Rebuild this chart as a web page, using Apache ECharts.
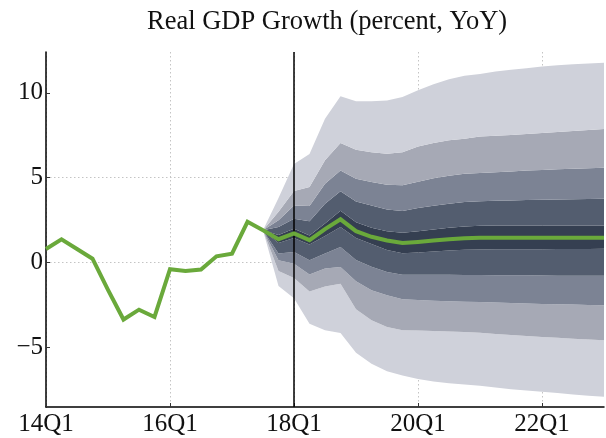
<!DOCTYPE html>
<html><head><meta charset="utf-8">
<script src="https://cdn.jsdelivr.net/npm/echarts@6/dist/echarts.min.js"></script>
<style>html,body{margin:0;padding:0;background:#fff}#c{width:606px;height:438px}</style>
</head><body><div id="c"></div>
<script>
const quarters = ['14Q1','14Q2','14Q3','14Q4','15Q1','15Q2','15Q3','15Q4','16Q1','16Q2','16Q3','16Q4',
  '17Q1','17Q2','17Q3','17Q4','18Q1','18Q2','18Q3','18Q4','19Q1','19Q2','19Q3','19Q4',
  '20Q1','20Q2','20Q3','20Q4','21Q1','21Q2','21Q3','21Q4','22Q1','22Q2','22Q3','22Q4','23Q1'];
const yTicks = [-5, 0, 5, 10];
const history = [0.8, 1.37, 0.8, 0.23, -1.6, -3.35, -2.77, -3.2, -0.39, -0.49, -0.41, 0.37, 0.53, 2.4];
// forecast from 17Q3 (index 14) to 23Q1
const median = [1.9, 1.38, 1.72, 1.32, 1.97, 2.55, 1.85, 1.52, 1.3, 1.15, 1.22, 1.3, 1.38, 1.44, 1.46, 1.47, 1.47, 1.47, 1.47, 1.47, 1.47, 1.47, 1.47];
const upper5 = [1.9, 3.8, 5.8, 6.4, 8.47, 9.8, 9.5, 9.5, 9.55, 9.75, 10.15, 10.5, 10.8, 11.0, 11.1, 11.25, 11.35, 11.45, 11.55, 11.62, 11.68, 11.73, 11.77];
const upper4 = [1.9, 3.0, 4.21, 4.45, 6.02, 7.04, 6.65, 6.5, 6.41, 6.5, 6.84, 7.04, 7.2, 7.3, 7.42, 7.47, 7.52, 7.57, 7.63, 7.69, 7.75, 7.81, 7.86];
const upper3 = [1.9, 2.5, 3.37, 3.33, 4.65, 5.43, 4.94, 4.74, 4.59, 4.55, 4.76, 4.96, 5.12, 5.23, 5.27, 5.32, 5.37, 5.42, 5.46, 5.49, 5.53, 5.56, 5.59];
const upper2 = [1.9, 2.1, 2.59, 2.43, 3.47, 4.2, 3.6, 3.37, 3.13, 3.04, 3.21, 3.35, 3.47, 3.57, 3.62, 3.64, 3.66, 3.68, 3.7, 3.72, 3.73, 3.75, 3.76];
const upper1 = [1.9, 1.62, 2.0, 1.6, 2.3, 3.05, 2.38, 2.05, 1.85, 1.76, 1.85, 1.95, 2.05, 2.13, 2.17, 2.19, 2.19, 2.19, 2.19, 2.19, 2.19, 2.19, 2.19];
const lower1 = [1.9, 1.15, 1.45, 1.06, 1.56, 2.1, 1.45, 1.1, 0.75, 0.55, 0.6, 0.66, 0.72, 0.76, 0.77, 0.78, 0.78, 0.79, 0.79, 0.8, 0.8, 0.8, 0.81];
const lower2 = [1.9, 0.53, 0.62, 0.14, 0.53, 0.92, 0.15, -0.25, -0.55, -0.72, -0.72, -0.72, -0.72, -0.73, -0.73, -0.74, -0.74, -0.75, -0.76, -0.77, -0.77, -0.78, -0.78];
const lower3 = [1.9, 0.14, -0.06, -0.7, -0.35, -0.26, -1.1, -1.63, -1.92, -2.15, -2.2, -2.24, -2.27, -2.3, -2.32, -2.35, -2.38, -2.4, -2.43, -2.45, -2.47, -2.49, -2.51];
const lower4 = [1.9, -0.5, -0.9, -1.7, -1.4, -1.25, -2.75, -3.4, -3.79, -3.98, -4.0, -4.03, -4.06, -4.09, -4.13, -4.2, -4.26, -4.32, -4.38, -4.43, -4.48, -4.53, -4.57];
const lower5 = [1.9, -1.38, -2.1, -3.6, -3.98, -4.14, -5.3, -5.95, -6.4, -6.65, -6.85, -7.0, -7.1, -7.18, -7.25, -7.35, -7.45, -7.53, -7.6, -7.68, -7.76, -7.84, -7.9];

const fanStart = history.length;
const pad = arr => new Array(fanStart).fill('-').concat(arr);
const diff = (a, b) => a.map((v, i) => +(v - b[i]).toFixed(3));
const C = {light:'#cfd1da', ml:'#a6a9b5', mid:'#7c8394', dark:'#535d6f', darkest:'#353f51'};
const bands = [
  [diff(lower4, lower5), C.light],
  [diff(lower3, lower4), C.ml],
  [diff(lower2, lower3), C.mid],
  [diff(lower1, lower2), C.dark],
  [diff(upper1, lower1), C.darkest],
  [diff(upper2, upper1), C.dark],
  [diff(upper3, upper2), C.mid],
  [diff(upper4, upper3), C.ml],
  [diff(upper5, upper4), C.light]
];
const serif = 'Liberation Serif';
const series = [{
  type: 'line', stack: 'fan', stackStrategy: 'all', data: pad(lower5), symbol: 'none',
  lineStyle: {opacity: 0}, z: 2, silent: true
}];
bands.forEach(([d, c]) => series.push({
  type: 'line', stack: 'fan', stackStrategy: 'all', data: pad(d), symbol: 'none',
  lineStyle: {width: 0, opacity: 0}, areaStyle: {color: c, opacity: 1}, z: 2, silent: true
}));
series.push({
  type: 'line', data: history.concat(median), symbol: 'none', z: 5,
  lineStyle: {color: '#6aa93b', width: 4, join: 'miter'},
  markLine: {silent: true, symbol: 'none', label: {show: false},
    lineStyle: {color: '#000', type: 'solid', width: 1.5},
    data: [{xAxis: '18Q1'}]}
});

const chart = echarts.init(document.getElementById('c'), null, {renderer: 'canvas'});
chart.setOption({
  animation: false,
  title: {text: 'Real GDP Growth (percent, YoY)', left: 142, top: 4,
    textStyle: {fontFamily: serif, fontSize: 26.5, fontWeight: 'normal', color: '#111'}},
  grid: {left: 46, right: 2, top: 52, bottom: 31, containLabel: false},
  xAxis: {
    type: 'category', data: quarters, boundaryGap: false,
    axisLine: {onZero: false, lineStyle: {color: '#000', width: 1.5}},
    axisTick: {inside: true, length: 4, interval: 7, lineStyle: {color: '#333'}},
    axisLabel: {interval: 7, fontFamily: serif, fontSize: 25, color: '#111', margin: 5},
    splitLine: {show: true, interval: 7, lineStyle: {color: '#c4c4c4', type: [1.5, 2.5], width: 1}}
  },
  yAxis: [{
    type: 'value', min: -8.5, max: 12.4,
    axisLine: {show: true, onZero: false, lineStyle: {color: '#000', width: 1.5}},
    axisTick: {show: true, inside: true, length: 4, customValues: yTicks, lineStyle: {color: '#333'}},
    axisLabel: {customValues: yTicks, fontFamily: serif, fontSize: 25, color: '#111', margin: 3,
      formatter: v => String(v).replace('-', '\u2212')},
    splitLine: {show: true, showMaxLine: false, showMinLine: false, lineStyle: {color: '#c4c4c4', type: [1.5, 2.5], width: 1}}
  }, {
    type: 'value', min: -8.5, max: 12.4, position: 'right',
    axisLine: {show: false},
    axisTick: {show: true, inside: true, length: 4, customValues: yTicks, lineStyle: {color: '#333'}},
    axisLabel: {show: false}, splitLine: {show: false}
  }],
  series: series
});
</script></body></html>
